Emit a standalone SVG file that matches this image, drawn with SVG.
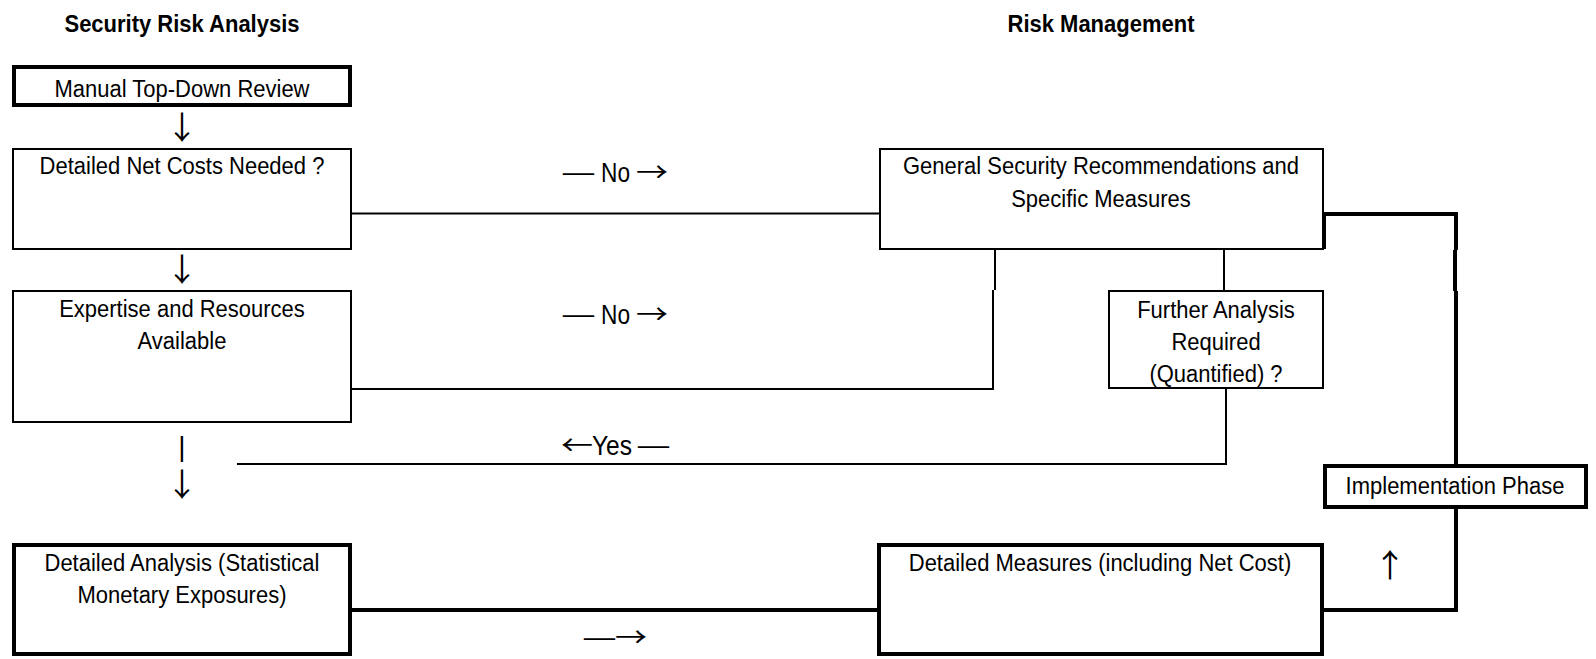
<svg xmlns="http://www.w3.org/2000/svg" width="1596" height="659" viewBox="0 0 1596 659">
  <style>
    text { font-family: "Liberation Sans", Arial, sans-serif; fill: #000; }
    .h { font-size: 22px; font-weight: bold; text-anchor: middle; }
    .t { font-size: 22px; text-anchor: middle; }
    .lbl { font-size: 27px; }
    .sym { font-family: "Noto Sans CJK SC", "DejaVu Sans", sans-serif; }
    .arr { font-family: "Noto Sans CJK SC", "DejaVu Sans", sans-serif; font-size: 32px; text-anchor: middle; }
    .bar { font-size: 28px; text-anchor: middle; }
    .box { fill: #fff; stroke: #000; stroke-width: 2; }
    .heavy { stroke-width: 4; }
    .wire { fill: none; stroke: #000; stroke-width: 2; }
    .wire.heavy { stroke-width: 4; }
  </style>

  <rect width="1596" height="659" fill="#fff"/>

  <!-- column headings -->
  <g id="headings">
    <text class="h" transform="translate(182 32) scale(1 1.1)">Security Risk Analysis</text>
    <text class="h" transform="translate(1101 32) scale(1 1.1)">Risk Management</text>
  </g>

  <!-- left column: analysis steps -->
  <g id="manual-review">
    <rect class="box heavy" x="14" y="67" width="336" height="38"/>
    <text class="t" transform="translate(182 97) scale(1 1.12)">Manual Top-Down Review</text>
  </g>
  <g id="net-costs">
    <rect class="box" x="13" y="149" width="338" height="100"/>
    <text class="t" transform="translate(182 174) scale(1 1.12)">Detailed Net Costs Needed ?</text>
  </g>
  <g id="expertise">
    <rect class="box" x="13" y="291" width="338" height="131"/>
    <text class="t" transform="translate(182 317) scale(1 1.12)"><tspan x="0">Expertise and Resources</tspan><tspan x="0" dy="28.6">Available</tspan></text>
  </g>
  <g id="detailed-analysis">
    <rect class="box heavy" x="14" y="545" width="336" height="109"/>
    <text class="t" transform="translate(182 571) scale(1 1.12)"><tspan x="0">Detailed Analysis (Statistical</tspan><tspan x="0" dy="28.6">Monetary Exposures)</tspan></text>
  </g>

  <!-- right column: management steps -->
  <g id="general-recommendations">
    <rect class="box" x="880" y="149" width="443" height="100"/>
    <text class="t" transform="translate(1101 174) scale(1 1.12)"><tspan x="0">General Security Recommendations and</tspan><tspan x="0" dy="29.5">Specific Measures</tspan></text>
  </g>
  <g id="further-analysis">
    <rect class="box" x="1109" y="291" width="214" height="97"/>
    <text class="t" transform="translate(1216 318) scale(1 1.12)"><tspan x="0">Further Analysis</tspan><tspan x="0" dy="28.6">Required</tspan><tspan x="0" dy="28.6">(Quantified) ?</tspan></text>
  </g>
  <g id="detailed-measures">
    <rect class="box heavy" x="879" y="545" width="443" height="109"/>
    <text class="t" transform="translate(1100 571) scale(1 1.12)">Detailed Measures (including Net Cost)</text>
  </g>
  <g id="implementation">
    <rect class="box heavy" x="1325" y="466" width="261" height="41"/>
    <text class="t" transform="translate(1455 494) scale(1 1.12)">Implementation Phase</text>
  </g>

  <!-- connectors and flow marks -->
  <g id="connectors">
    <path class="wire" d="M351 213.5 H880"/>
    <path class="wire" d="M351 389 H993 V290"/>
    <path class="wire" d="M995 290 V249"/>
    <path class="wire" d="M1224 249 V291"/>
    <path class="wire" d="M1226 388 V464 H237"/>
    <path class="wire heavy" d="M350 610 H879"/>
    <path class="wire heavy" d="M1322 610 H1456 V507"/>
    <path class="wire heavy" d="M1324 249 V214 H1456 V250"/>
    <path class="wire heavy" d="M1455 250 V291"/>
    <path class="wire heavy" d="M1456 291 V466"/>

    <text class="arr" x="182" y="139">↓</text>
    <text class="arr" x="182" y="281">↓</text>
    <text class="bar" x="182" y="456">|</text>
    <text class="arr" x="182" y="496">↓</text>
    <text class="arr" x="1390" y="577">↑</text>

    <text class="lbl" y="182"><tspan class="sym" x="561" textLength="35" lengthAdjust="spacingAndGlyphs">—</tspan><tspan x="601" textLength="29" lengthAdjust="spacingAndGlyphs">No</tspan><tspan class="sym" x="636" textLength="32" lengthAdjust="spacingAndGlyphs">→</tspan></text>
    <text class="lbl" y="324"><tspan class="sym" x="561" textLength="35" lengthAdjust="spacingAndGlyphs">—</tspan><tspan x="601" textLength="29" lengthAdjust="spacingAndGlyphs">No</tspan><tspan class="sym" x="636" textLength="32" lengthAdjust="spacingAndGlyphs">→</tspan></text>
    <text class="lbl" y="455"><tspan class="sym" x="561" textLength="32" lengthAdjust="spacingAndGlyphs">←</tspan><tspan x="592" textLength="40" lengthAdjust="spacingAndGlyphs">Yes</tspan><tspan class="sym" x="636" textLength="35" lengthAdjust="spacingAndGlyphs">—</tspan></text>
    <text class="lbl" y="647"><tspan class="sym" x="582" textLength="35" lengthAdjust="spacingAndGlyphs">—</tspan><tspan class="sym" x="615" textLength="32" lengthAdjust="spacingAndGlyphs">→</tspan></text>
  </g>
</svg>
